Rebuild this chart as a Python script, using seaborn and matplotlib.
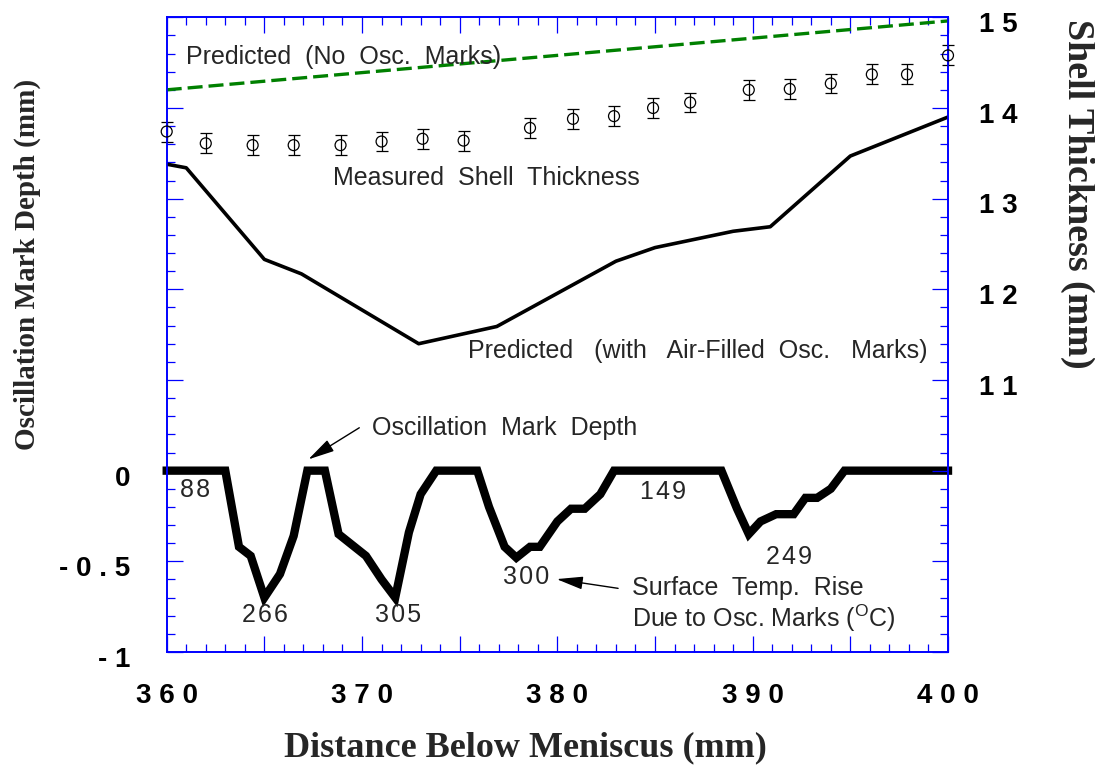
import matplotlib
matplotlib.use("Agg")
import matplotlib.pyplot as plt
from matplotlib.ticker import FixedLocator, FixedFormatter, MultipleLocator
from matplotlib.transforms import ScaledTranslation
import seaborn as sns

# ---- axis ticks -------------------------------------------------------------
dist_ticks = [360, 365, 370, 375, 380, 385, 390, 395, 400]
dist_tick_labels = ["3 6 0", "", "3 7 0", "", "3 8 0", "", "3 9 0", "", "4 0 0"]

depth_ticks = [-1.0, -0.5, 0.0, 0.5, 1.0, 1.5, 2.0, 2.5]
depth_tick_labels = ["- 1", "- 0 . 5", "0", "", "", "", "", ""]

shell_ticks = [8, 9, 10, 11, 12, 13, 14, 15]
shell_tick_labels = ["", "", "", "1 1", "1 2", "1 3", "1 4", "1 5"]

# ---- shell thickness (mm) ---------------------------------------------------
pred_plain_x = [360.0, 400.0]
pred_plain_y = [14.20, 14.96]

meas_x = [360.0, 362.0, 364.4, 366.5, 368.9, 371.0, 373.1, 375.2, 378.6, 380.8,
          382.9, 384.9, 386.8, 389.8, 391.9, 394.0, 396.1, 397.9, 400.0]
meas_y = [13.74, 13.61, 13.59, 13.59, 13.59, 13.63, 13.66, 13.64, 13.78, 13.88,
          13.91, 14.00, 14.06, 14.20, 14.21, 14.27, 14.37, 14.37, 14.58]
meas_err = [0.11, 0.11, 0.11, 0.11, 0.11, 0.11, 0.11, 0.11, 0.11, 0.11,
            0.11, 0.11, 0.11, 0.11, 0.11, 0.11, 0.11, 0.11, 0.11]

pred_air_x = [360.0, 361.0, 365.0, 366.9, 372.9, 376.9, 383.0, 385.0, 389.0, 390.9, 395.0, 400.0]
pred_air_y = [13.38, 13.34, 12.33, 12.17, 11.40, 11.59, 12.31, 12.46, 12.64, 12.69, 13.47, 13.90]

# ---- oscillation mark depth (mm) --------------------------------------------
mark_x = [360.0, 363.0, 363.7, 364.3, 365.0, 365.8, 366.5, 367.2, 368.1, 368.8,
          370.2, 371.0, 371.7, 372.4, 373.0, 373.8, 375.9, 376.5, 377.3, 377.9,
          378.6, 379.1, 380.0, 380.7, 381.4, 382.2, 382.9, 388.4, 389.2, 389.8,
          390.4, 391.2, 392.1, 392.7, 393.3, 394.0, 394.7, 400.0]
mark_y = [0.0, 0.0, -0.42, -0.47, -0.70, -0.57, -0.36, 0.0, 0.0, -0.35,
          -0.47, -0.60, -0.70, -0.34, -0.13, 0.0, 0.0, -0.20, -0.42, -0.48,
          -0.42, -0.42, -0.28, -0.21, -0.21, -0.13, 0.0, 0.0, -0.21, -0.35,
          -0.28, -0.24, -0.24, -0.15, -0.15, -0.10, 0.0, 0.0]

# surface temperature rise (deg C) written beside each mark
rise_values = ["88", "266", "305", "300", "149", "249"]

# ---- style ------------------------------------------------------------------
sns.set_style("white")
plt.rcParams["font.family"] = ["Liberation Sans", "DejaVu Sans"]
plt.rcParams["mathtext.fontset"] = "custom"
plt.rcParams["mathtext.rm"] = "Liberation Sans"
plt.rcParams["mathtext.it"] = "Liberation Sans:italic"

BLUE = "#0000ff"
LABEL_FS = 18
TICK_FS = 20
HAIR = "\u200a"

fig = plt.figure(figsize=(10.95, 7.70), dpi=100)
ax = fig.add_axes([0.15224, 0.15325, 0.71352, 0.82429])
ax2 = ax.twinx()

ax.set_xlim(360, 400)
ax.set_ylim(-1.0, 2.5)
ax2.set_ylim(8, 15)

# thick oscillation-mark profile
sns.lineplot(x=mark_x, y=mark_y, ax=ax, color="black", linewidth=6,
             estimator=None, sort=False, solid_capstyle="projecting",
             solid_joinstyle="miter", clip_on=False)

# shell thickness curves
sns.lineplot(x=pred_plain_x, y=pred_plain_y, ax=ax2, color="#008000",
             linewidth=2.4, linestyle=(0, (4.5, 1.8)), estimator=None, sort=False)
sns.lineplot(x=pred_air_x, y=pred_air_y, ax=ax2, color="black", linewidth=2.6,
             estimator=None, sort=False)
ax2.errorbar(meas_x, meas_y, yerr=meas_err, fmt="none", ecolor="black",
             elinewidth=0.9, capsize=4.3, capthick=0.9, clip_on=False)
sns.scatterplot(x=meas_x, y=meas_y, ax=ax2, marker="o", s=62,
                facecolor="none", edgecolor="black", linewidth=0.9,
                clip_on=False, zorder=3)

# ---- frame and ticks --------------------------------------------------------
for a in (ax, ax2):
    for sp in a.spines.values():
        sp.set_color(BLUE)
        sp.set_linewidth(1.2)
        sp.set_visible(True)

ax.xaxis.set_major_locator(FixedLocator(dist_ticks))
ax.xaxis.set_major_formatter(FixedFormatter(dist_tick_labels))
ax.xaxis.set_minor_locator(MultipleLocator(1))
ax.yaxis.set_major_locator(FixedLocator(depth_ticks))
ax.yaxis.set_major_formatter(FixedFormatter(depth_tick_labels))
ax.yaxis.set_minor_locator(MultipleLocator(0.1))
ax2.yaxis.set_major_locator(FixedLocator(shell_ticks))
ax2.yaxis.set_major_formatter(FixedFormatter(shell_tick_labels))
ax2.yaxis.set_minor_locator(MultipleLocator(0.2))

tick_kw = dict(direction="in", color=BLUE, labelcolor="black")
ax.tick_params(axis="x", which="both", top=True, bottom=True, **tick_kw)
ax.tick_params(axis="x", which="major", length=11.5, width=0.9, pad=22,
               labelsize=TICK_FS)
ax.tick_params(axis="x", which="minor", length=5.8, width=0.9)
ax.tick_params(axis="y", which="both", left=True, right=False, **tick_kw)
ax.tick_params(axis="y", which="major", length=11.5, width=0.9, pad=26,
               labelsize=TICK_FS)
ax.tick_params(axis="y", which="minor", length=5.8, width=0.9)
ax2.tick_params(axis="y", which="both", left=False, right=True, **tick_kw)
ax2.tick_params(axis="y", which="major", length=11.5, width=0.9, pad=22,
                labelsize=TICK_FS)
ax2.tick_params(axis="y", which="minor", length=5.8, width=0.9)
ax.set_xlabel("")
ax.set_ylabel("")
ax2.set_ylabel("")

# vertical tick labels sit a few pixels below their ticks
drop = ScaledTranslation(0, -3.5 / 72, fig.dpi_scale_trans)
for lab in ax.get_xticklabels():
    lab.set_fontweight("bold")
for lab in ax.get_yticklabels() + ax2.get_yticklabels():
    lab.set_fontweight("bold")
    lab.set_transform(lab.get_transform() + drop)

# ---- axis titles ------------------------------------------------------------
serif = ["Liberation Serif", "DejaVu Serif"]
fig.text(0.4795, 0.029, "Distance Below Meniscus (mm)", family=serif,
         fontweight="bold", fontsize=26, ha="center", va="center")
fig.text(0.0251, 0.657, "Oscillation Mark Depth (mm)", family=serif,
         fontweight="bold", fontsize=21, ha="center", va="center",
         rotation=90)
fig.text(0.9845, 0.748, "Shell Thickness (mm)", family=serif,
         fontweight="bold", fontsize=27.4, ha="center", va="center",
         rotation=-90)

# ---- curve labels -----------------------------------------------------------
ax2.text(360.99, 14.49, "Predicted  (No  Osc.  Marks)", fontsize=LABEL_FS,
         va="baseline")
ax2.text(368.5, 13.15, "Measured  Shell  Thickness", fontsize=LABEL_FS,
         va="baseline")
ax2.text(375.42, 11.24, "Predicted   (with   Air-Filled  Osc.   Marks)",
         fontsize=LABEL_FS, va="baseline")

arrow = dict(arrowstyle="-|>,head_length=0.9,head_width=0.22", color="black",
             lw=1.0, shrinkA=0, shrinkB=0, mutation_scale=18)
ax.annotate("", xy=(367.25, 0.062), xytext=(369.86, 0.2365), arrowprops=arrow)
ax.text(370.49, 0.196, "Oscillation  Mark  Depth", fontsize=LABEL_FS,
        va="baseline")

# temperature rise at each mark
rise_pos = [(360.68, -0.144, "left"), (365.03, -0.833, "center"),
            (371.84, -0.833, "center"), (377.2, -0.625, "left"),
            (384.22, -0.157, "left"), (390.7, -0.516, "left")]
for val, (x, y, ha) in zip(rise_values, rise_pos):
    ax.text(x, y, HAIR.join(val), fontsize=LABEL_FS, ha=ha, va="baseline")

ax.annotate("", xy=(379.96, -0.598), xytext=(383.11, -0.649), arrowprops=arrow)
ax.text(383.8, -0.686, "Surface  Temp.  Rise", fontsize=LABEL_FS,
        va="baseline")
ax.text(383.8, -0.860, r"Due to Osc. Marks ($^{\mathrm{O}}$C)",
        fontsize=LABEL_FS, va="baseline")

fig.savefig("out.png", dpi=100)
